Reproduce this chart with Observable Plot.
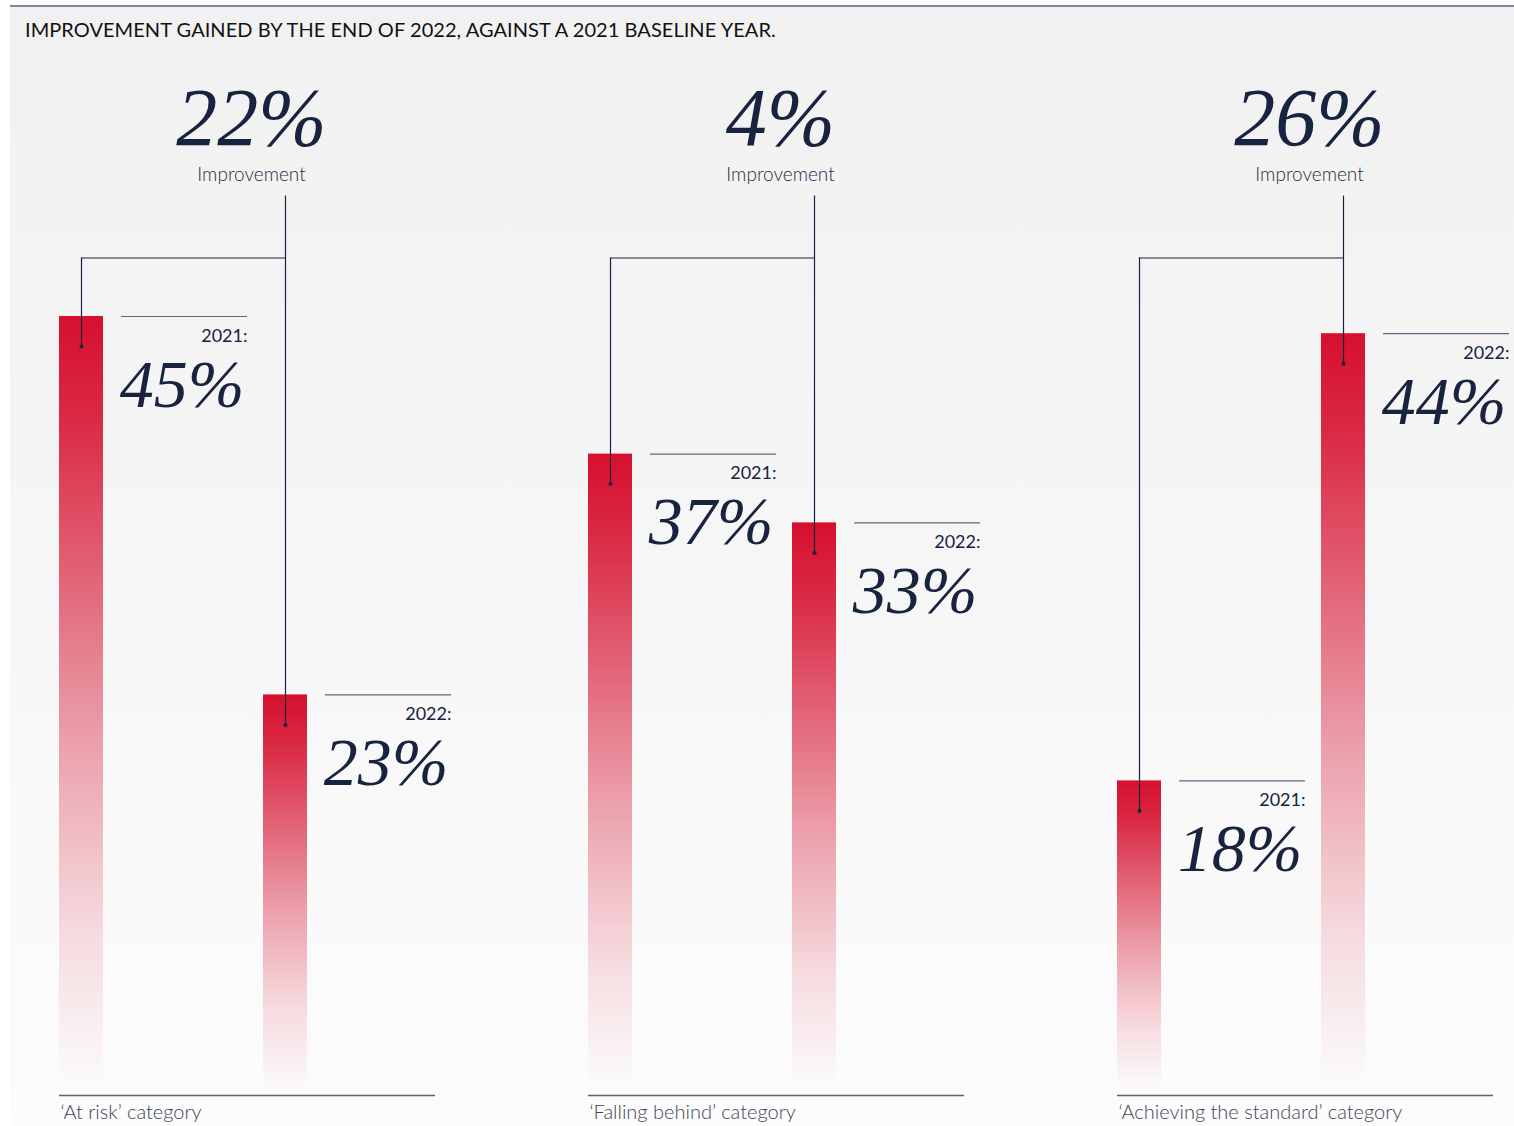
<!DOCTYPE html>
<html>
<head>
<meta charset="utf-8">
<script src="https://cdn.jsdelivr.net/npm/d3@7"></script>
<script src="https://cdn.jsdelivr.net/npm/@observablehq/plot@0.6"></script>
<style>
  html, body { margin: 0; padding: 0; background: #ffffff; }
  #page { position: relative; width: 1514px; height: 1126px; overflow: hidden; }
  #frame { position: absolute; left: 10px; top: 5px; width: 1504px; height: 1121px;
           border-top: 2px solid #7f889b;
           background: linear-gradient(to bottom, #f1f1f1 0%, #f5f5f5 40%, #fcfcfc 100%); }
  #title { position: absolute; left: 25px; top: 17px; font-family: Lato, "Noto Sans", sans-serif;
           font-size: 20px; letter-spacing: 0.05px; color: #111; white-space: nowrap; }
  #chart { position: absolute; left: 0; top: 50px; }
</style>
</head>
<body>
<div id="page">
  <div id="frame"></div>
  <div id="title">IMPROVEMENT GAINED BY THE END OF 2022, AGAINST A 2021 BASELINE YEAR.</div>
  <div id="chart"></div>
</div>
<script>
// ---- data ----
const categories = ["At risk", "Falling behind", "Achieving the standard"];
const categoryLabels = ["\u2018At risk\u2019 category", "\u2018Falling behind\u2019 category", "\u2018Achieving the standard\u2019 category"];
const years = ["2021", "2022"];
const values2021 = [45, 37, 18];
const values2022 = [23, 33, 44];
const improvements = ["22%", "4%", "26%"];

// ---- layout constants (in y units) ----
const LEVEL = 48.4;   // horizontal connector height
const TOP = 52;       // top of the connector under "Improvement"

const rows = [];
categories.forEach((c, i) => {
  rows.push({category: c, year: "2021", value: values2021[i]});
  rows.push({category: c, year: "2022", value: values2022[i]});
});
const heads = categories.map((c, i) => ({category: c, text: improvements[i], label: categoryLabels[i]}));

const navy = "#17233f";
const serif = "'Liberation Serif', 'DejaVu Serif', serif";
const sans = "Lato, 'Noto Sans', sans-serif";

const plot = Plot.plot({
  width: 1514,
  height: 1076,
  marginLeft: 59,
  marginRight: 21,
  marginTop: 0,
  marginBottom: 36,
  style: {background: "transparent", overflow: "visible"},
  fx: {domain: categories, paddingInner: 0.29, paddingOuter: 0, axis: null},
  x: {domain: years, paddingInner: 0.784, paddingOuter: 0.3135, align: 0, axis: null},
  y: {domain: [0, 45], range: [1040, 266], axis: null},
  marks: [
    // bars
    Plot.barY(rows, {fx: "category", x: "year", y: "value", fill: "url(#redfade)"}),
    // baseline under each category
    Plot.ruleY(heads, {fx: "category", y: () => 0, dy: 5, stroke: "#5b6577", strokeWidth: 1.6}),
    // category labels
    Plot.text(heads, {fx: "category", y: () => 0, text: "label", frameAnchor: "left", textAnchor: "start",
      lineAnchor: "top", dy: 14, dx: 1, fontSize: 20, fontWeight: 300, fontFamily: sans, fill: "#3c4556"}),
    // connectors: verticals
    Plot.ruleX(rows.filter(d => d.year === "2021"), {fx: "category", x: "year", y1: () => LEVEL, y2: "value",
      insetBottom: -30, stroke: navy, strokeWidth: 1.2}),
    Plot.ruleX(rows.filter(d => d.year === "2022"), {fx: "category", x: "year", y1: () => TOP, y2: "value",
      insetBottom: -29, stroke: navy, strokeWidth: 1.2}),
    // horizontal connector
    Plot.ruleY(heads, {fx: "category", x1: () => "2021", x2: () => "2022", y: () => LEVEL,
      insetLeft: 22, insetRight: 22, stroke: navy, strokeWidth: 1.2}),
    // dots
    Plot.dot(rows, {fx: "category", x: "year", y: "value", dy: 30, r: 2, fill: navy}),
    // label rules above year labels
    Plot.ruleY(rows, {fx: "category", x1: "year", x2: "year", y: "value", insetLeft: 62, insetRight: -144,
      stroke: "#5d6880", strokeWidth: 1.2}),
    // year labels
    Plot.text(rows, {fx: "category", x: "year", y: "value", text: d => d.year + ":", textAnchor: "end",
      lineAnchor: "bottom", dx: 166, dy: 25, fontSize: 18, fontFamily: sans, fill: navy}),
    // big values
    Plot.text(rows, {fx: "category", x: "year", y: "value", text: d => d.value + "%", textAnchor: "end",
      lineAnchor: "bottom", dx: 163, dy: 90, fontSize: 68, fontStyle: "italic", fontFamily: serif,
      fill: navy, letterSpacing: 5}),
    // improvement headline
    Plot.text(heads, {fx: "category", x: () => "2022", y: () => TOP, text: "text", textAnchor: "middle",
      lineAnchor: "bottom", dx: -34, dy: -51, fontSize: 82, fontStyle: "italic", fontFamily: serif, fill: navy}),
    Plot.text(heads, {fx: "category", x: () => "2022", y: () => TOP, text: () => "Improvement", textAnchor: "middle",
      lineAnchor: "bottom", dx: -34, dy: -15, fontSize: 19, fontWeight: 300, fontFamily: sans, fill: "#1f2a44"})
  ]
});

// gradient definition used by the bars
const svg = d3.select(plot);
const defs = svg.insert("defs", ":first-child");
const grad = defs.append("linearGradient").attr("id", "redfade")
  .attr("x1", 0).attr("y1", 0).attr("x2", 0).attr("y2", 1);
[[0, 1], [0.12, 0.9], [0.35, 0.62], [0.55, 0.38], [0.8, 0.13], [1, 0]].forEach(([o, a]) => {
  grad.append("stop").attr("offset", o).attr("stop-color", "#d6102e").attr("stop-opacity", a);
});

document.getElementById("chart").appendChild(plot);
</script>
</body>
</html>
